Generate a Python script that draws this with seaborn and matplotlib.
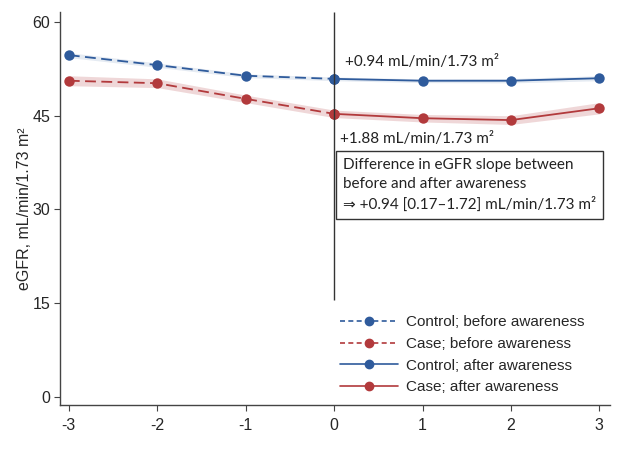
import matplotlib
matplotlib.use("Agg")
import matplotlib.pyplot as plt
import seaborn as sns
import pandas as pd
from matplotlib.lines import Line2D

sns.set_style("white")
plt.rcParams['font.family'] = ['Liberation Sans', 'DejaVu Sans']
plt.rcParams['axes.unicode_minus'] = False

years_before = [-3, -2, -1, 0]
years_after = [0, 1, 2, 3]
control_before = [54.7, 53.1, 51.4, 50.9]
control_after = [50.9, 50.6, 50.6, 51.0]
case_before = [50.6, 50.2, 47.7, 45.3]
case_after = [45.3, 44.6, 44.3, 46.2]
control_ci_half = [0.4, 0.35, 0.3, 0.3, 0.3, 0.35, 0.4]
case_ci_half = [0.8, 0.7, 0.6, 0.6, 0.6, 0.7, 0.9]
xticks = [-3, -2, -1, 0, 1, 2, 3]
yticks = [0, 15, 30, 45, 60]

blue = "#2f5b9c"
red = "#b23a3c"

rows = []
for x, y in zip(years_before, control_before):
    rows.append(dict(year=x, egfr=y, series="Control; before awareness"))
for x, y in zip(years_before, case_before):
    rows.append(dict(year=x, egfr=y, series="Case; before awareness"))
for x, y in zip(years_after, control_after):
    rows.append(dict(year=x, egfr=y, series="Control; after awareness"))
for x, y in zip(years_after, case_after):
    rows.append(dict(year=x, egfr=y, series="Case; after awareness"))
df = pd.DataFrame(rows)

fig = plt.figure(figsize=(6.2, 4.58), dpi=100)
ax = fig.add_axes([60/620, 1-405/458, 550/620, 393/458])

all_x = years_before + years_after[1:]
ctrl_all = control_before + control_after[1:]
case_all = case_before + case_after[1:]
ax.fill_between(all_x, [c - h for c, h in zip(ctrl_all, control_ci_half)],
                [c + h for c, h in zip(ctrl_all, control_ci_half)], color=blue, alpha=0.12, lw=0)
ax.fill_between(all_x, [c - h for c, h in zip(case_all, case_ci_half)],
                [c + h for c, h in zip(case_all, case_ci_half)], color=red, alpha=0.2, lw=0)

palette = {"Control; before awareness": blue, "Case; before awareness": red,
           "Control; after awareness": blue, "Case; after awareness": red}
dashes = {"Control; before awareness": (6, 3), "Case; before awareness": (6, 3),
          "Control; after awareness": "", "Case; after awareness": ""}
sns.lineplot(data=df, x="year", y="egfr", hue="series", style="series",
             palette=palette, dashes=dashes, markers={k: "o" for k in palette},
             markersize=7.5, markeredgewidth=0, linewidth=1.3, ax=ax, legend=False)

ax.vlines(0, 15.5, 61.6, color="#333333", lw=1.0)

ax.set_xlim(-3.1, 3.12)
ax.set_ylim(-1.3, 61.6)
ax.set_xticks(xticks)
ax.set_yticks(yticks)
ax.tick_params(axis="both", length=4, width=0.8, color="#444444", labelsize=11.5,
               direction="out", bottom=True, left=True, pad=3)
ax.tick_params(axis="x", pad=5)
for s in ["top", "right"]:
    ax.spines[s].set_visible(False)
for s in ["left", "bottom"]:
    ax.spines[s].set_color("#444444")
    ax.spines[s].set_linewidth(1.0)
ax.set_xlabel("")
ax.set_ylabel("eGFR, mL/min/1.73 m\u00b2", fontsize=11.5, labelpad=0)

afont = dict(family=["Lato", "DejaVu Sans"], fontsize=11, color="#222222")
ax.text(0.12, 53.6, "+0.94 mL/min/1.73 m\u00b2", va="center", ha="left", **afont)
ax.text(0.07, 41.2, "+1.88 mL/min/1.73 m\u00b2", va="center", ha="left", **afont)
ax.text(0.1, 33.9,
        "Difference in eGFR slope between\nbefore and after awareness\n\u21d2 +0.94 [0.17\u20131.72] mL/min/1.73 m\u00b2",
        va="center", ha="left", linespacing=1.45, **afont,
        bbox=dict(boxstyle="square,pad=0.45", fc="white", ec="#333333", lw=1.0))

handles = [
    Line2D([], [], color=blue, ls=(0, (3, 2)), marker="o", markersize=6, lw=1.2),
    Line2D([], [], color=red, ls=(0, (3, 2)), marker="o", markersize=6, lw=1.2),
    Line2D([], [], color=blue, ls="-", marker="o", markersize=6, lw=1.2),
    Line2D([], [], color=red, ls="-", marker="o", markersize=6, lw=1.2),
]
labels = ["Control; before awareness", "Case; before awareness",
          "Control; after awareness", "Case; after awareness"]
ax.legend(handles, labels, loc="lower left", bbox_to_anchor=(0.49, 0.0),
          frameon=False, fontsize=11, handlelength=3.8, labelspacing=0.5,
          handletextpad=0.5, borderpad=0.2)

fig.savefig("out.png", dpi=100)
